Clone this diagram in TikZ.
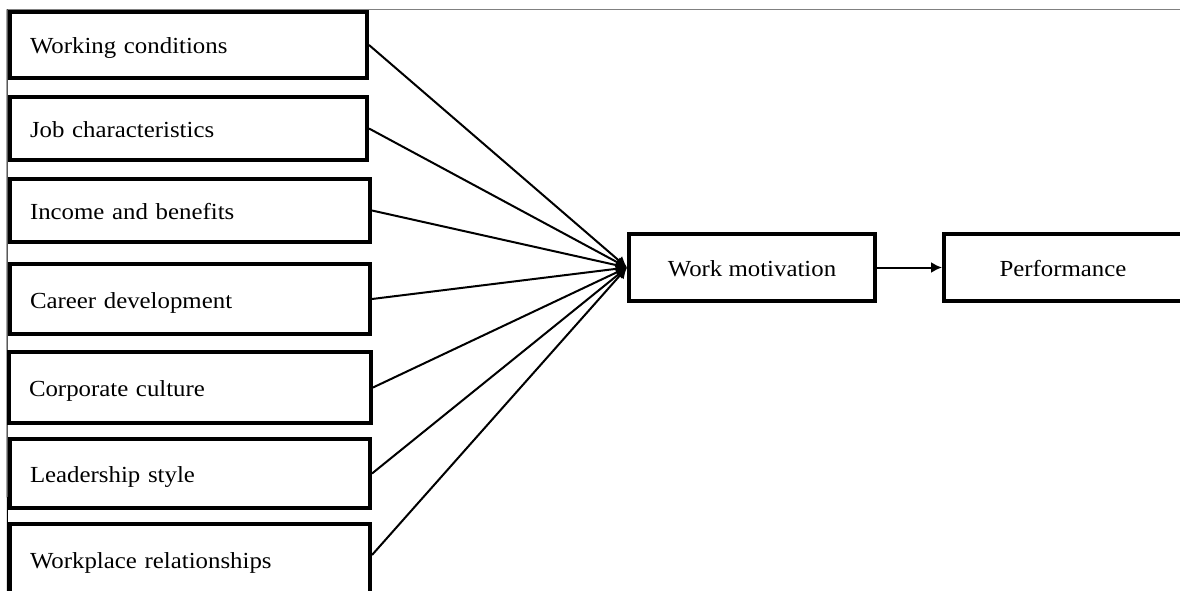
\documentclass[tikz,border=0pt]{standalone}
\usepackage{fontspec}
\setmainfont{Liberation Serif}[FakeStretch=1.08]
\usetikzlibrary{arrows.meta}
\begin{document}
\begin{tikzpicture}[x=1pt,y=-1pt,
  lbl/.style={font=\fontsize{23}{27}\selectfont},
  leftbox/.style={draw, line width=4pt, rectangle, inner xsep=20pt, inner ysep=0pt,
    align=left, text height=18pt, text depth=0pt, minimum height=#1, lbl},
  midbox/.style={draw, line width=4pt, rectangle, inner sep=0pt, align=center,
    text height=17pt, text depth=0pt, lbl},
  conn/.style={line width=2pt, -{Latex[length=11pt,width=11pt]}},
  frame/.style={line width=1.8pt, draw=black!50}
]
\useasboundingbox (0,0) rectangle (1180,591);
\clip (0,0) rectangle (1180,591);
\coordinate (ftl) at (7,9.5);
\coordinate (ftr) at (1182,9.5);
\coordinate (fbl) at (7.3,595);
\draw[frame] (ftl) -- (ftr);
\draw[line width=1pt] (ftl) -- (fbl);

\node[leftbox=66pt, text width=317pt] (b1) at (188.5,45) {Working conditions};
\node[leftbox=63pt, text width=317pt] (b2) at (188.5,128.5) {Job characteristics};
\node[leftbox=63pt, text width=320pt] (b3) at (190,210.5) {Income and benefits};
\node[leftbox=70pt, text width=320pt] (b4) at (190,299) {Career development};
\node[leftbox=71pt, text width=322pt] (b5) at (190,387.5) {Corporate culture};
\node[leftbox=69pt, text width=320pt] (b6) at (190,473.5) {Leadership style};
\node[leftbox=70pt, text width=320pt] (b7) at (190,559) {Workplace relationships};

\node[midbox, minimum width=246pt, minimum height=67pt] (wm) at (752,267.5) {Work motivation};
\node[midbox, minimum width=238pt, minimum height=67pt] (pf) at (1063,267.5) {Performance};

\foreach \b in {b1,b2,b3,b4,b5,b6}{
  \draw[conn] (\b.east) -- (wm.west);
}
\draw[conn] ([yshift=4pt]b7.east) -- (wm.west);
\draw[conn] (wm.east) -- (pf.west);
\end{tikzpicture}
\end{document}
